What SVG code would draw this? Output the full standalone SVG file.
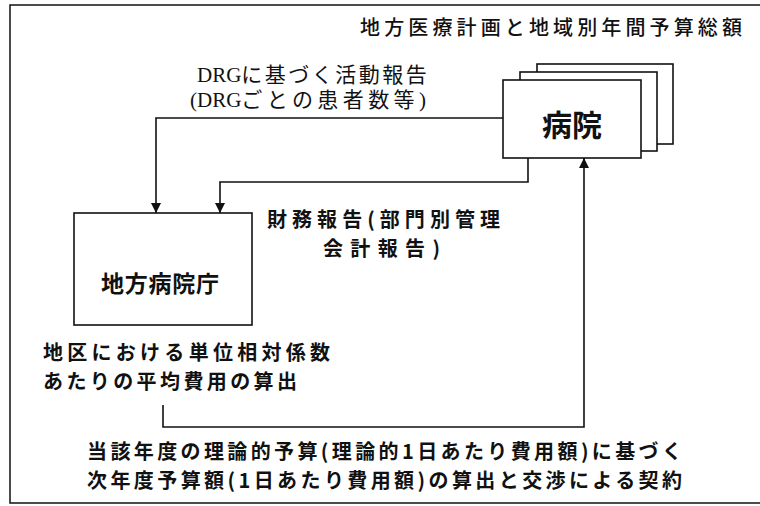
<svg xmlns="http://www.w3.org/2000/svg" width="760" height="506" viewBox="0 0 760 506">
<defs>
<style>
.frame{fill:none;stroke:#111;stroke-width:1.5}
.box{fill:#fff;stroke:#111;stroke-width:1.6}
.ln{fill:none;stroke:#111;stroke-width:1.6}
.g{font-family:"Noto Sans CJK JP","Liberation Sans",sans-serif;fill:#111;font-weight:700}
.t{font-family:"Noto Sans CJK JP","Liberation Sans",sans-serif;fill:#111;font-weight:500}
.b{font-family:"Noto Sans CJK JP","Liberation Sans",sans-serif;fill:#111;font-weight:700}
.s{font-family:"Liberation Serif","Noto Sans CJK JP",serif;fill:#111}
</style>
<marker id="ah" viewBox="0 0 10 10" refX="10" refY="5" markerWidth="10" markerHeight="10" markerUnits="userSpaceOnUse" orient="auto">
<path d="M0,0 L10,5 L0,10 z" fill="#111"/>
</marker>
</defs>
<rect width="760" height="506" fill="#fff"/>
<path class="frame" d="M770,5 H10 V503 H770"/>

<text class="t" x="360" y="35" font-size="20" textLength="382" lengthAdjust="spacing">地方医療計画と地域別年間予算総額</text>

<g id="hospital">
<rect class="box" x="537" y="64" width="136" height="80"/>
<rect class="box" x="520" y="72" width="137" height="79"/>
<rect class="box" x="503" y="80" width="138" height="78"/>
<text class="b" x="572" y="136" font-size="30" text-anchor="middle">病院</text>
</g>

<g id="agency">
<rect class="box" x="74" y="213" width="178" height="112"/>
<text class="b" x="160" y="292" font-size="23" text-anchor="middle" textLength="118" lengthAdjust="spacing">地方病院庁</text>
</g>

<g id="connectors">
<path class="ln" d="M503,118 H156 V213" marker-end="url(#ah)"/>
<path class="ln" d="M528,158 V182 H220 V213" marker-end="url(#ah)"/>
<path class="ln" d="M163,405 V427 H584 V158" marker-end="url(#ah)"/>
</g>

<g id="labels">
<text class="s" x="197" y="82" font-size="21">DRG<tspan letter-spacing="2.5">に基づく活動報告</tspan></text>
<text class="s" x="190" y="107" font-size="21">(DRG<tspan letter-spacing="4.4">ごとの患者数等)</tspan></text>
<text class="g" x="267" y="227" font-size="20" textLength="233" lengthAdjust="spacing">財務報告(部門別管理</text>
<text class="g" x="323" y="256" font-size="20" textLength="117" lengthAdjust="spacing">会計報告)</text>
<text class="g" x="43" y="360" font-size="20" textLength="287" lengthAdjust="spacing">地区における単位相対係数</text>
<text class="g" x="43" y="389" font-size="20" textLength="254" lengthAdjust="spacing">あたりの平均費用の算出</text>
<text class="g" x="87" y="459" font-size="20" textLength="595" lengthAdjust="spacing">当該年度の理論的予算(理論的1日あたり費用額)に基づく</text>
<text class="g" x="87" y="488" font-size="20" textLength="595" lengthAdjust="spacing">次年度予算額(1日あたり費用額)の算出と交渉による契約</text>
</g>
</svg>
